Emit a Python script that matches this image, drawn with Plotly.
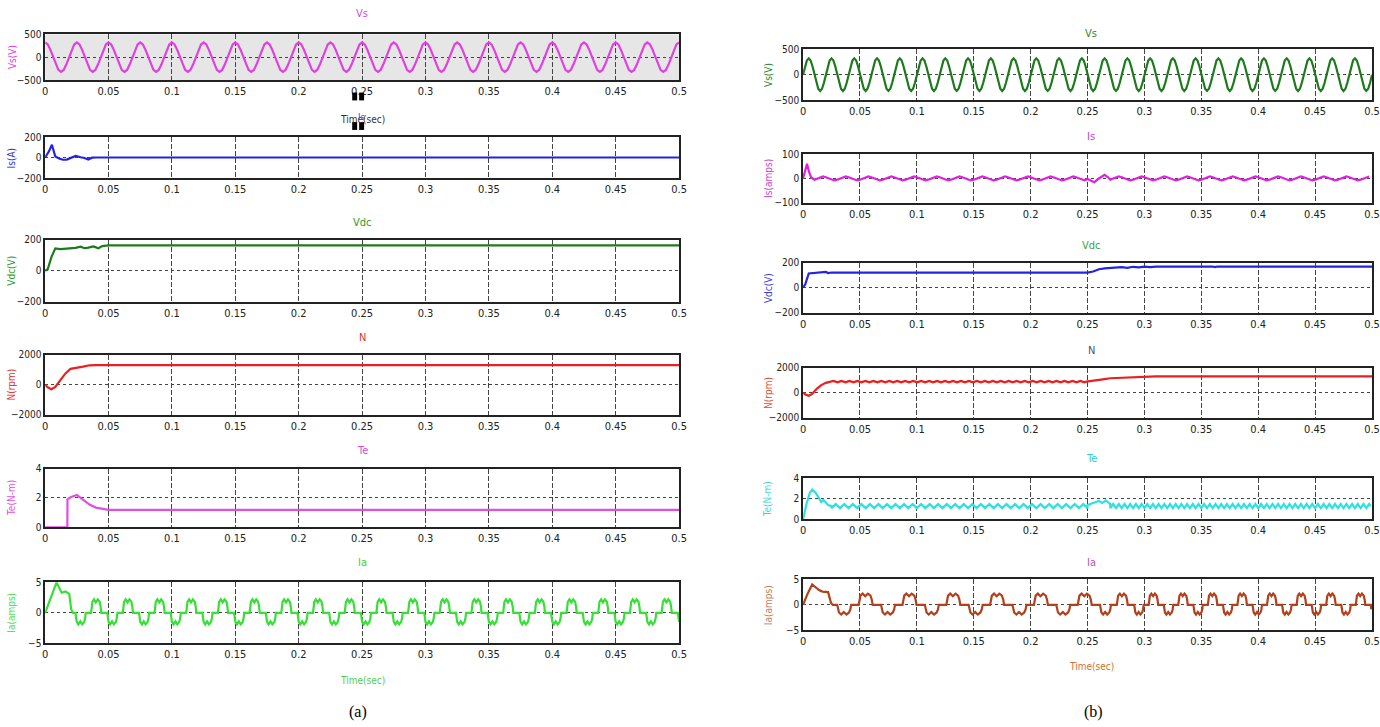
import plotly.graph_objects as go

W, H = 1380, 727

# ---------------- shared axis data ----------------
time_ticks = [0, 0.05, 0.1, 0.15, 0.2, 0.25, 0.3, 0.35, 0.4, 0.45, 0.5]
time_tick_labels = ["0", "0.05", "0.1", "0.15", "0.2", "0.25", "0.3", "0.35", "0.4", "0.45", "0.5"]

# ---------------- (a) values ----------------
vs_a_cycle = [320, 277, 160, 0, -160, -277, -320, -277, -160, 0, 160, 277]   # one 0.025 s cycle
vs_a_period = 0.025

is_a_t = [0, 0.003, 0.0053, 0.008, 0.011, 0.014, 0.017, 0.021, 0.024, 0.028, 0.031, 0.034, 0.037, 0.04, 0.5]
is_a_v = [0, 60, 125, 10, -10, -22, -20, 5, 16, 2, -5, -20, -2, 0, 0]

vdc_a_t = [0, 0.002, 0.005, 0.008, 0.012, 0.016, 0.02, 0.024, 0.028, 0.031, 0.034, 0.038, 0.042, 0.045, 0.05, 0.5]
vdc_a_v = [0, 10, 90, 145, 140, 142, 145, 148, 156, 146, 150, 158, 146, 160, 164, 164]

n_a_t = [0, 0.002, 0.005, 0.008, 0.012, 0.016, 0.02, 0.025, 0.03, 0.035, 0.04, 0.5]
n_a_v = [0, -180, -300, -150, 300, 750, 1050, 1150, 1200, 1290, 1300, 1300]

te_a_t = [0, 0.0175, 0.0176, 0.02, 0.025, 0.03, 0.035, 0.04, 0.045, 0.05, 0.5]
te_a_v = [0, 0, 1.9, 2.05, 2.2, 1.9, 1.55, 1.35, 1.25, 1.2, 1.2]

ia_a_start_t = [0, 0.005, 0.009, 0.013, 0.016, 0.019, 0.0205, 0.022]
ia_a_start_v = [0, 2.6, 5.0, 3.3, 3.5, 3.1, 0.6, 0]
ia_a_period = 0.025
ia_a_first_cycle = 0.024

# one stepped phase-current cycle (fraction of period, amps)
ia_cycle_f = [0, 0.015, 0.04, 0.09, 0.15, 0.21, 0.27, 0.30, 0.32,
              0.49, 0.505, 0.53, 0.58, 0.64, 0.70, 0.76, 0.79, 0.81]
ia_cycle_v = [0, -0.9, -1.5, -1.9, -1.4, -1.9, -1.5, -0.9, 0,
              0, 1.0, 1.8, 2.2, 1.7, 2.2, 1.8, 1.0, 0]

# ---------------- (b) values ----------------
vs_b_cycle = [0, 160, 277, 320, 277, 160, 0, -160, -277, -320, -277, -160]   # one 0.02 s cycle
vs_b_period = 0.02

is_b_start_t = [0, 0.002, 0.0035, 0.005, 0.007, 0.01]
is_b_start_v = [0, 40, 60, 30, 5, -5]
is_b_ripple = [-5, 0, 5, 8, 5, 0, -5, -8]
is_b_ripple_period = 0.02
is_b_step_t = [0.25, 0.253, 0.256, 0.26, 0.265, 0.268, 0.27]
is_b_step_v = [-2, -10, -15, 0, 15, 5, -5]

vdc_b_t = [0, 0.002, 0.005, 0.01, 0.015, 0.018, 0.02, 0.022, 0.025, 0.05, 0.25, 0.255, 0.26, 0.265,
           0.27, 0.275, 0.28, 0.285, 0.29, 0.295, 0.3, 0.305, 0.31, 0.36, 0.362, 0.364, 0.4, 0.402,
           0.404, 0.47, 0.472, 0.474, 0.5]
vdc_b_v = [0, 30, 115, 118, 120, 125, 128, 118, 122, 122, 122, 130, 148, 155, 158, 160, 165, 160, 168,
           164, 170, 165, 170, 170, 165, 170, 170, 165, 170, 170, 165, 170, 170]

n_b_start_t = [0, 0.002, 0.005, 0.008, 0.012, 0.016, 0.02, 0.025]
n_b_start_v = [0, -150, -250, -100, 300, 600, 780, 850]
n_b_ripple = [880, 930, 880, 830]
n_b_ripple_period = 0.007
n_b_step_t = [0.25, 0.255, 0.26, 0.265, 0.27, 0.28, 0.29, 0.3, 0.31, 0.5]
n_b_step_v = [890, 930, 1000, 1080, 1150, 1180, 1200, 1280, 1300, 1300]

te_b_start_t = [0, 0.003, 0.006, 0.008, 0.011, 0.014, 0.016, 0.018, 0.02, 0.022, 0.025]
te_b_start_v = [0, 1.5, 2.6, 2.9, 2.6, 2.0, 1.7, 1.9, 1.6, 1.4, 1.3]
te_b_ripple = [1.1, 1.3, 1.5, 1.3]
te_b_ripple_period_1 = 0.0075
te_b_ripple_period_2 = 0.005
te_b_step_t = [0.25, 0.255, 0.26, 0.263, 0.266, 0.27]
te_b_step_v = [1.4, 1.6, 1.8, 1.6, 1.85, 1.5]

ia_b_start_t = [0, 0.004, 0.008, 0.011, 0.014, 0.017, 0.02, 0.022, 0.0245, 0.026]
ia_b_start_v = [0, 2.2, 4.0, 3.4, 2.9, 2.6, 2.6, 2.5, 0.4, 0]
ia_b_cycle_starts = [0.030, 0.0685, 0.107, 0.1455, 0.184, 0.2225, 0.261, 0.291, 0.317, 0.343,
                     0.369, 0.395, 0.421, 0.447, 0.473, 0.499, 0.525]


# ---------------- helpers ----------------
def tile(t0, t1, period, values):
    """repeat one read cycle (equally spaced samples) from t0 up to t1"""
    ts, vs = [], []
    n = len(values)
    k = 0
    while t0 + k * period < t1:
        for i, v in enumerate(values):
            t = t0 + k * period + i * period / n
            if t >= t1:
                break
            ts.append(t)
            vs.append(v)
        k += 1
    return ts, vs


def tile_shape(starts, t1, f, v):
    ts, vs = [], []
    for a, b in zip(starts[:-1], starts[1:]):
        p = b - a
        for ff, vv in zip(f, v):
            t = a + ff * p
            if t > t1:
                return ts, vs
            ts.append(t)
            vs.append(vv)
    return ts, vs


def cat(*parts):
    ts, vs = [], []
    for t, v in parts:
        ts += list(t)
        vs += list(v)
    return ts, vs


# build series
vs_a = tile(0, 0.5, vs_a_period, vs_a_cycle)
vs_a = (vs_a[0] + [0.5], vs_a[1] + [vs_a_cycle[0]])
ia_a_starts = [ia_a_first_cycle + k * ia_a_period for k in range(21)]
ia_a = cat((ia_a_start_t, ia_a_start_v), ([ia_a_first_cycle], [0]),
           tile_shape(ia_a_starts, 0.5, ia_cycle_f, ia_cycle_v))

vs_b = tile(0, 0.5, vs_b_period, vs_b_cycle)
vs_b = (vs_b[0] + [0.5], vs_b[1] + [0])
is_b = cat((is_b_start_t, is_b_start_v), tile(0.01, 0.25, is_b_ripple_period, is_b_ripple),
           (is_b_step_t, is_b_step_v), tile(0.27, 0.5, is_b_ripple_period, is_b_ripple))
n_b = cat((n_b_start_t, n_b_start_v), tile(0.025, 0.25, n_b_ripple_period, n_b_ripple),
          (n_b_step_t, n_b_step_v))
te_b = cat((te_b_start_t, te_b_start_v), tile(0.025, 0.25, te_b_ripple_period_1, te_b_ripple),
           (te_b_step_t, te_b_step_v), tile(0.27, 0.5, te_b_ripple_period_2, te_b_ripple))
ia_b = cat((ia_b_start_t, ia_b_start_v), tile_shape(ia_b_cycle_starts, 0.5, ia_cycle_f, ia_cycle_v))

# ---------------- panel definitions (pixel layout) ----------------
FONT = "DejaVu Sans Condensed, Liberation Sans Narrow, sans-serif"
LX = (42.5, 681.5)
RX = (806.5, 1380)
L_TX, R_TX = 362, 1097

panels = [
    dict(xp=LX, yp=(28.7, 75.4), ty=7.5, d=vs_a, c="#e040e0", yt=[-500, 0, 500],
         title="Vs", tc="#d050d0", yl="Vs(V)", ylc="#e040e0", bg="#e6e6e6"),
    dict(xp=LX, yp=(133.2, 174.9), ty=None, d=(is_a_t, is_a_v), c="#2424e0", yt=[-200, 0, 200],
         title=None, tc=None, yl="Is(A)", ylc="#3030e0"),
    dict(xp=LX, yp=(237.8, 300.7), ty=220.5, d=(vdc_a_t, vdc_a_v), c="#1c7c1c", yt=[-200, 0, 200],
         title="Vdc", tc="#2a9a2a", yl="Vdc(V)", ylc="#2a9a2a"),
    dict(xp=LX, yp=(354.5, 415.5), ty=337.3, d=(n_a_t, n_a_v), c="#e82020", yt=[-2000, 0, 2000],
         title="N", tc="#e03030", yl="N(rpm)", ylc="#e03030"),
    dict(xp=LX, yp=(470.3, 530.2), ty=452, d=(te_a_t, te_a_v), c="#e050e0", yt=[0, 2, 4],
         title="Te", tc="#d050d0", yl="Te(N-m)", ylc="#e050e0"),
    dict(xp=LX, yp=(586, 648), ty=565.7, d=ia_a, c="#36e036", yt=[-5, 0, 5],
         title="Ia", tc="#40d040", yl="Ia(amps)", ylc="#50e050"),
    dict(xp=RX, yp=(43.9, 95.7), ty=27.6, d=vs_b, c="#1c7a1c", yt=[-500, 0, 500],
         title="Vs", tc="#2a8a2a", yl="Vs(V)", ylc="#2a8a2a"),
    dict(xp=RX, yp=(150.5, 200.2), ty=132.2, d=is_b, c="#e020e0", yt=[-100, 0, 100],
         title="Is", tc="#d040d0", yl="Is(amps)", ylc="#d040d0"),
    dict(xp=RX, yp=(261.1, 311.9), ty=243.9, d=(vdc_b_t, vdc_b_v), c="#2424e0", yt=[-200, 0, 200],
         title="Vdc", tc="#40a040", yl="Vdc(V)", ylc="#4040d0"),
    dict(xp=RX, yp=(367.7, 418.5), ty=350.5, d=n_b, c="#e82020", yt=[-2000, 0, 2000],
         title="N", tc="#505070", yl="N(rpm)", ylc="#e05030"),
    dict(xp=RX, yp=(480.4, 522), ty=460.1, d=te_b, c="#30e0e0", yt=[0, 2, 4],
         title="Te", tc="#30d0d0", yl="Te(N-m)", ylc="#40d8d8"),
    dict(xp=RX, yp=(583, 634.8), ty=565.7, d=ia_b, c="#b2401c", yt=[-5, 0, 5],
         title="Ia", tc="#c050c0", yl="Ia(amps)", ylc="#c08060"),
]

fig = go.Figure()
layout = dict(width=W, height=H, margin=dict(l=0, r=0, t=0, b=0),
              paper_bgcolor="white", plot_bgcolor="rgba(0,0,0,0)", showlegend=False,
              annotations=[], shapes=[])


def px_x(p):
    return p / W


def px_y(p):
    return 1 - p / H


def note(text, x, y, size, color, family=FONT, angle=0):
    return dict(text=text, x=px_x(x), y=px_y(y), xref="paper", yref="paper", showarrow=False,
                xanchor="center", yanchor="middle", textangle=angle,
                font=dict(family=family, size=size, color=color))


for i, p in enumerate(panels, start=1):
    xa = "xaxis" if i == 1 else f"xaxis{i}"
    ya = "yaxis" if i == 1 else f"yaxis{i}"
    xr = "x" if i == 1 else f"x{i}"
    yr = "y" if i == 1 else f"y{i}"
    t, v = p["d"]
    fig.add_trace(go.Scatter(x=t, y=v, mode="lines", line=dict(color=p["c"], width=2.2),
                             xaxis=xr, yaxis=yr, hoverinfo="skip"))
    layout[xa] = dict(domain=[px_x(p["xp"][0]), px_x(p["xp"][1])], anchor=yr, range=[0, 0.5],
                      tickmode="array", tickvals=time_ticks, ticktext=time_tick_labels,
                      ticklabeloverflow="allow",
                      showgrid=True, gridcolor="#444444", gridwidth=1, griddash="5px,2px",
                      showline=True, mirror=True, linecolor="#222222", linewidth=1.6,
                      zeroline=False, ticks="", tickfont=dict(family=FONT, size=11, color="#222"))
    layout[ya] = dict(domain=[px_y(p["yp"][1]), px_y(p["yp"][0])], anchor=xr,
                      range=[p["yt"][0], p["yt"][-1]], tickmode="array", tickvals=p["yt"],
                      showgrid=True, gridcolor="#444444", gridwidth=1, griddash="dot",
                      showline=True, mirror=True, linecolor="#222222", linewidth=1.6,
                      zeroline=False, ticks="", tickfont=dict(family=FONT, size=10, color="#222"))
    if p.get("bg"):
        layout["shapes"].append(dict(type="rect", xref=xr, yref=yr, x0=0, x1=0.5,
                                     y0=p["yt"][0], y1=p["yt"][-1], fillcolor=p["bg"],
                                     line=dict(width=0), layer="below"))
    cy = (p["yp"][0] + p["yp"][1]) / 2
    if p["title"]:
        tx = L_TX if p["xp"] == LX else R_TX
        layout["annotations"].append(note(p["title"], tx, p["ty"], 11, p["tc"]))
    ylx = 9 if p["xp"] == LX else p["xp"][0] - 35
    layout["annotations"].append(note(p["yl"], ylx, cy, 10, p["ylc"], angle=-90))

# x-axis titles and sub-figure labels
layout["annotations"] += [
    note("Time(sec)", 362, 115, 10, "#333"),
    note("Is", 361, 113, 9, "#4040e0"),
    note("Time(sec)", 362, 685.5, 10, "#50d050"),
    note("Time(sec)", 1097, 672, 10, "#d07030"),
    note("(a)", 358, 718, 16, "black", family="Liberation Serif, Times New Roman, serif"),
    note("(b)", 1099, 718, 16, "black", family="Liberation Serif, Times New Roman, serif"),
]
# small black render artefacts around the first time label
for x0, y0 in [(352, 88), (359, 88), (352, 118), (359, 118)]:
    layout["shapes"].append(dict(type="rect", xref="paper", yref="paper", x0=px_x(x0), x1=px_x(x0 + 5),
                                 y0=px_y(y0 + 8), y1=px_y(y0), fillcolor="black", line=dict(width=0)))

fig.update_layout(**layout)
fig.write_html("out.html", config={"displayModeBar": False},
               post_script="document.body.style.margin='0';document.body.style.overflow='hidden';")
